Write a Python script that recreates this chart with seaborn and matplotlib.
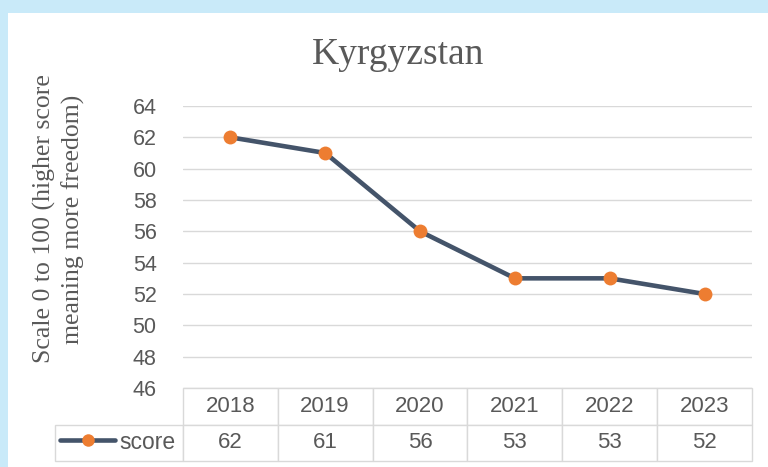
import matplotlib
matplotlib.use("Agg")
import matplotlib.pyplot as plt
import seaborn as sns
import pandas as pd
from matplotlib.patches import Rectangle

years = ["2018", "2019", "2020", "2021", "2022", "2023"]
scores = [62, 61, 56, 53, 53, 52]
y_ticks = [46, 48, 50, 52, 54, 56, 58, 60, 62, 64]
title = "Kyrgyzstan"
y_label = "Scale 0 to 100 (higher score\nmeaning more freedom)"
series_name = "score"

LINE = "#44546A"
MARK = "#ED7D31"
TXT = "#595959"
GRID = "#D9D9D9"

sns.set_theme(style="white")
plt.rcParams["font.family"] = ["Liberation Sans", "DejaVu Sans"]

df = pd.DataFrame({"year": years, series_name: scores})

W, H = 768, 467
fig = plt.figure(figsize=(W / 100, H / 100), dpi=100)
fig.patch.set_facecolor("#C9EAF9")
fig.patches.append(Rectangle((8 / W, 0), 1, 1 - 13 / H, transform=fig.transFigure,
                             facecolor="white", edgecolor="none", zorder=-5))

ax = fig.add_axes([183 / W, 1 - 388 / H, 569 / W, 282 / H])
ax.set_facecolor("none")

sns.lineplot(data=df, x="year", y=series_name, ax=ax, color=LINE, linewidth=3.3,
             marker="o", markersize=10, markerfacecolor=MARK, markeredgecolor=MARK,
             markeredgewidth=0, label=series_name, sort=False)

ax.set_xlim(-0.5, len(years) - 0.5)
ax.set_ylim(46, 64)
ax.set_yticks(y_ticks)
ax.yaxis.grid(True, color=GRID, linewidth=1)
ax.tick_params(axis="y", length=0, pad=19, labelsize=15.5, labelcolor=TXT)
ax.tick_params(axis="x", length=0, labelbottom=False)
ax.set_xlabel("")
ax.set_ylabel("")
for s in ax.spines.values():
    s.set_visible(False)

# data table under the plot
tb_h = 73 / 282
tb = ax.table(cellText=[[""] + [str(v) for v in scores]],
              colLabels=[""] + years,
              colWidths=[128 / 697] + [95 / 697] * len(years),
              cellLoc="center",
              bbox=[(55 - 183) / 569, -tb_h, 697 / 569, tb_h])
tb.auto_set_font_size(False)
tb.set_fontsize(16)
for (r, c), cell in tb.get_celld().items():
    cell.set_edgecolor(GRID)
    cell.set_linewidth(1)
    cell.get_text().set_color(TXT)
    if r == 0 and c == 0:
        cell.visible_edges = ""

leg = ax.legend(loc="center", bbox_to_anchor=((118 - 183) / 569, (388 - 442) / 282),
                frameon=False, handlelength=2.4, handletextpad=0.2,
                fontsize=16.5, borderpad=0, markerscale=0.9)
for t in leg.get_texts():
    t.set_color(TXT)

fig.text(398 / W, 1 - 55 / H, title, ha="center", va="center",
         fontsize=27, color=TXT, family=["Liberation Serif"])
fig.text(59 / W, 1 - 219 / H, y_label, ha="center", va="center", rotation=90,
         multialignment="center", fontsize=18.5, color=TXT, family=["Liberation Serif"],
         linespacing=1.3)

fig.savefig("out.png", dpi=100)
